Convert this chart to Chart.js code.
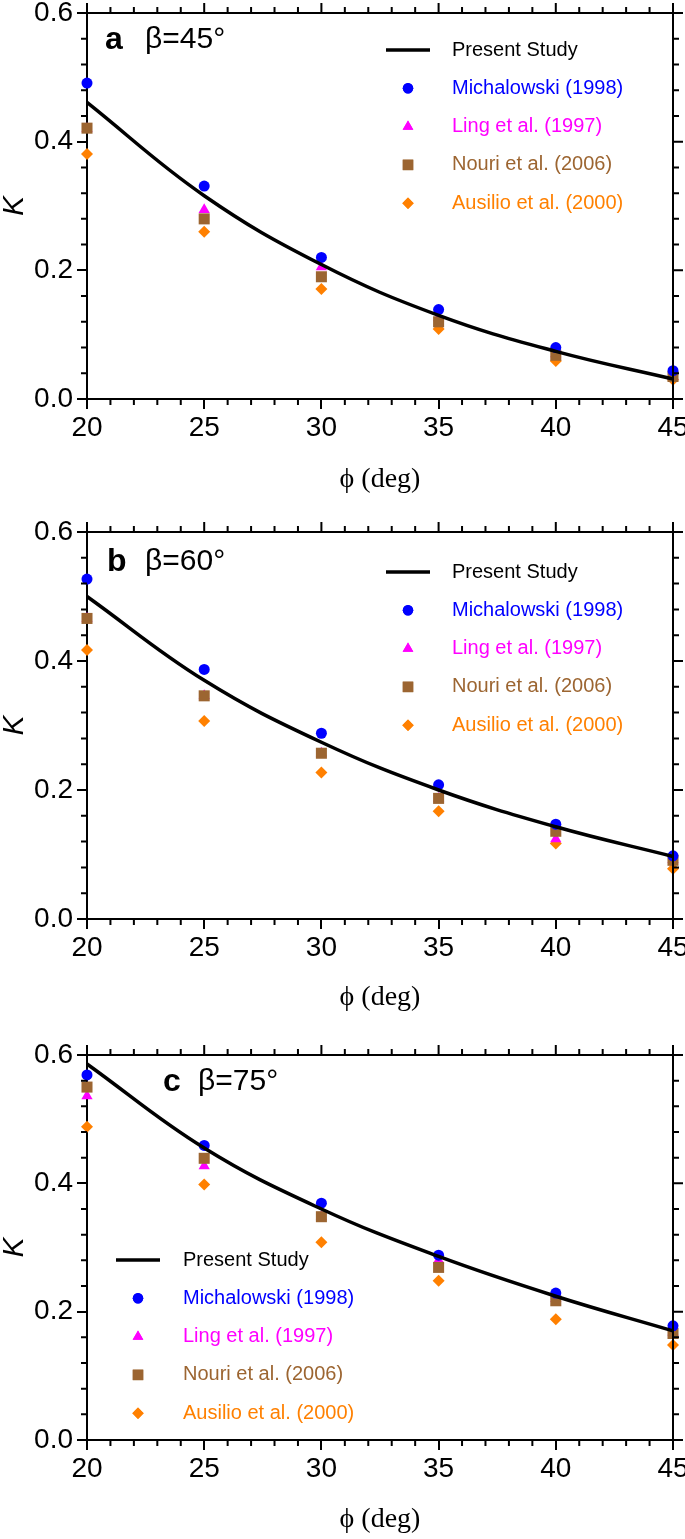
<!DOCTYPE html>
<html>
<head>
<meta charset="utf-8">
<script src="https://cdn.jsdelivr.net/npm/chart.js@4"></script>
<style>
  body { margin: 0; background: #fff; }
  .panel { width: 685px; height: 513px; position: relative; }
</style>
</head>
<body>
<div class="panel"><canvas id="chartA" width="685" height="513"></canvas></div>
<div class="panel"><canvas id="chartB" width="685" height="513"></canvas></div>
<div class="panel"><canvas id="chartC" width="685" height="513"></canvas></div>
<script>
// friction angle (deg)
const phiDeg = [20, 25, 30, 35, 40, 45];

// a  beta = 45
const presentA = [0.461, 0.316, 0.209, 0.130, 0.074, 0.031];
const michA    = [0.491, 0.331, 0.220, 0.139, 0.080, 0.044];
const lingA    = [0.420, 0.294, 0.205, 0.126, 0.070, 0.035];
const nouriA   = [0.421, 0.280, 0.190, 0.120, 0.068, 0.035];
const ausA     = [0.381, 0.260, 0.171, 0.109, 0.059, 0.030];

// b  beta = 60
const presentB = [0.500, 0.370, 0.274, 0.200, 0.143, 0.097];
const michB    = [0.527, 0.387, 0.288, 0.208, 0.147, 0.098];
const lingB    = [0.466, 0.346, 0.257, 0.187, 0.124, 0.092];
const nouriB   = [0.466, 0.346, 0.257, 0.187, 0.136, 0.091];
const ausB     = [0.417, 0.307, 0.227, 0.167, 0.117, 0.078];

// c  beta = 75
const presentC = [0.586, 0.455, 0.360, 0.286, 0.224, 0.170];
const michC    = [0.569, 0.459, 0.369, 0.288, 0.229, 0.178];
const lingC    = [0.536, 0.427, 0.348, 0.280, 0.220, 0.168];
const nouriC   = [0.550, 0.439, 0.348, 0.269, 0.217, 0.166];
const ausC     = [0.488, 0.398, 0.308, 0.248, 0.188, 0.148];

const seriesNames = ['Present Study', 'Michalowski (1998)', 'Ling et al. (1997)', 'Nouri et al. (2006)', 'Ausilio et al. (2000)'];
const seriesColors = ['#000000', '#0000ff', '#ff00ff', '#9c6531', '#ff8000'];
const seriesMarkers = [null, 'circle', 'triangle', 'rect', 'rectRot'];

const xTicks = [20, 25, 30, 35, 40, 45];
const yTicks = [0.0, 0.2, 0.4, 0.6];

Chart.defaults.font.family = '"Liberation Sans", Arial, sans-serif';
Chart.defaults.color = '#000';

function markerRadius(style) {
  if (style === 'rect') return 7.8;
  if (style === 'rectRot') return 6;
  if (style === 'triangle') return 6.5;
  return 5.5;
}

// frame on top/right plus minor ticks
const framePlugin = {
  id: 'frame',
  afterDraw(chart) {
    const { ctx, chartArea: a, scales } = chart;
    const x = scales.x, y = scales.y;
    ctx.save();
    ctx.strokeStyle = '#000';
    ctx.lineWidth = 2;
    ctx.beginPath();
    ctx.moveTo(a.left, a.top);
    ctx.lineTo(a.right, a.top);
    ctx.lineTo(a.right, a.bottom);
    for (let v = 20; v <= 45; v++) {
      const px = x.getPixelForValue(v);
      const major = v % 5 === 0;
      const len = major ? 10 : 6;
      if (!major) {
        ctx.moveTo(px, a.bottom);
        ctx.lineTo(px, a.bottom + len);
      }
      ctx.moveTo(px, a.top);
      ctx.lineTo(px, a.top - len);
    }
    for (let i = 0; i <= 15; i++) {
      const py = y.getPixelForValue(i * 0.04);
      const major = i % 5 === 0;
      const len = major ? 10 : 6;
      if (!major) {
        ctx.moveTo(a.left, py);
        ctx.lineTo(a.left - len, py);
      }
      ctx.moveTo(a.right, py);
      ctx.lineTo(a.right + len, py);
    }
    ctx.stroke();
    ctx.restore();
  }
};

// legend and panel caption
const notePlugin = {
  id: 'note',
  afterDraw(chart, args, o) {
    const ctx = chart.ctx;
    ctx.save();
    ctx.textBaseline = 'middle';
    ctx.textAlign = 'left';
    ctx.fillStyle = '#000';
    ctx.font = 'bold 32px "Liberation Sans", Arial, sans-serif';
    ctx.fillText(o.tag, o.tagX, o.tagY);
    ctx.font = '30px "Liberation Sans", Arial, sans-serif';
    ctx.fillText(o.beta, o.betaX, o.tagY);

    ctx.font = '20px "Liberation Sans", Arial, sans-serif';
    seriesNames.forEach((name, i) => {
      const yy = o.legY + i * 38.3;
      if (seriesMarkers[i] === null) {
        ctx.strokeStyle = seriesColors[i];
        ctx.lineWidth = 3.5;
        ctx.beginPath();
        ctx.moveTo(o.markX - 22, yy);
        ctx.lineTo(o.markX + 22, yy);
        ctx.stroke();
      } else {
        ctx.fillStyle = seriesColors[i];
        ctx.strokeStyle = seriesColors[i];
        Chart.helpers.drawPoint(ctx, {
          pointStyle: seriesMarkers[i],
          radius: markerRadius(seriesMarkers[i]) * 0.95,
          rotation: 0,
          borderWidth: 0
        }, o.markX, yy);
        ctx.fill();
      }
      ctx.fillStyle = seriesColors[i];
      ctx.fillText(name, o.textX, yy);
    });
    ctx.restore();
  }
};

function makePanel(id, series, cfg) {
  const datasets = series.map((vals, i) => {
    const pts = phiDeg.map((p, k) => ({ x: p, y: vals[k] }));
    if (i === 0) {
      return {
        label: seriesNames[i], data: pts, showLine: true,
        borderColor: seriesColors[i], borderWidth: 3.5,
        tension: 0.4, pointRadius: 0, order: 0, clip: false
      };
    }
    const orderMap = { 1: 1, 2: 3, 3: 2, 4: 4 };
    return {
      label: seriesNames[i], data: pts, showLine: false, clip: false,
      pointStyle: seriesMarkers[i], pointRadius: markerRadius(seriesMarkers[i]),
      pointBackgroundColor: seriesColors[i], pointBorderColor: seriesColors[i],
      pointBorderWidth: 0, order: orderMap[i]
    };
  });

  return new Chart(document.getElementById(id), {
    type: 'scatter',
    data: { datasets },
    options: {
      responsive: false,
      animation: false,
      devicePixelRatio: 1,
      layout: { padding: { left: 0, right: 12, top: cfg.top, bottom: cfg.bottomPad } },
      plugins: {
        legend: { display: false },
        tooltip: { enabled: false },
        note: cfg.note
      },
      scales: {
        x: {
          type: 'linear', min: 20, max: 45,
          afterBuildTicks: s => { s.ticks = xTicks.map(v => ({ value: v })); },
          afterFit: s => { s.height = cfg.xHeight; s.paddingLeft = 0; s.paddingRight = 0; },
          ticks: { font: { size: 28 }, padding: 2, maxRotation: 0, autoSkip: false },
          grid: { display: true, drawOnChartArea: false, drawTicks: true, tickLength: 10, color: '#000', lineWidth: 2 },
          border: { display: true, color: '#000', width: 2 },
          title: {
            display: true, text: 'ϕ (deg)', padding: 0,
            font: { family: '"Liberation Serif", "Times New Roman", serif', size: 28 }
          }
        },
        y: {
          type: 'linear', min: 0, max: 0.6,
          afterBuildTicks: s => { s.ticks = yTicks.map(v => ({ value: v })); },
          afterFit: s => { s.width = 87; s.paddingTop = 0; s.paddingBottom = 0; },
          ticks: { font: { size: 28 }, padding: 4, callback: v => Number(v).toFixed(1) },
          grid: { display: true, drawOnChartArea: false, drawTicks: true, tickLength: 10, color: '#000', lineWidth: 2 },
          border: { display: true, color: '#000', width: 2 },
          title: {
            display: true, text: 'K', padding: 0,
            font: { size: 30, style: 'italic', lineHeight: 1 }
          }
        }
      }
    },
    plugins: [framePlugin, notePlugin]
  });
}

makePanel('chartA', [presentA, michA, lingA, nouriA, ausA], {
  top: 13, xHeight: 97.8, bottomPad: 16.2,
  note: { tag: 'a', beta: 'β=45°', tagX: 105, betaX: 145, tagY: 40, markX: 408, textX: 452, legY: 50 }
});
makePanel('chartB', [presentB, michB, lingB, nouriB, ausB], {
  top: 19, xHeight: 95.8, bottomPad: 11.2,
  note: { tag: 'b', beta: 'β=60°', tagX: 107, betaX: 145, tagY: 49, markX: 408, textX: 452, legY: 59 }
});
makePanel('chartC', [presentC, michC, lingC, nouriC, ausC], {
  top: 29, xHeight: 96.8, bottomPad: 2.2,
  note: { tag: 'c', beta: 'β=75°', tagX: 163, betaX: 198, tagY: 56, markX: 138, textX: 183, legY: 234 }
});
</script>
</body>
</html>
